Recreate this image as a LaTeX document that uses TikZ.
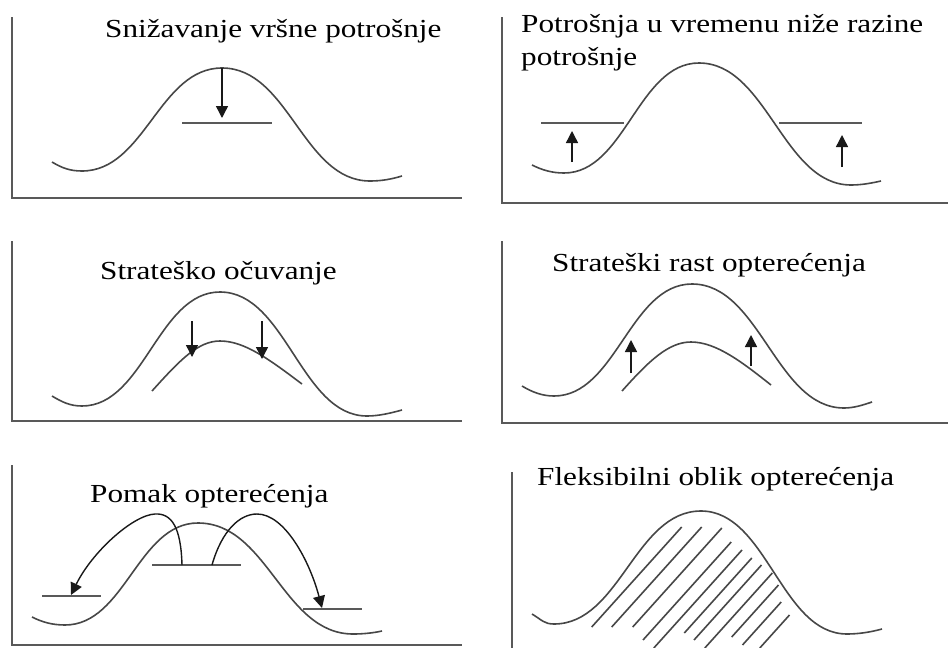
\documentclass[tikz,border=0pt]{standalone}
\usepackage{fontspec}
\setmainfont{Liberation Serif}[FakeStretch=1.2]
\usetikzlibrary{arrows.meta}
\begin{document}
\begin{tikzpicture}[x=1pt,y=-1pt,
  axisline/.style={draw=black!65,line width=1.7pt},
  curveline/.style={draw=black!72,line width=1.6pt},
  levelline/.style={draw=black!65,line width=1.6pt},
  shiftarrow/.style={draw=black!90,line width=1.4pt,-{Triangle[length=12pt,width=12pt]}},
  hatchline/.style={draw=black!72,line width=1.6pt},
  title/.style={anchor=base west,inner sep=0pt,font=\fontsize{26}{33}\selectfont,align=left}]
\useasboundingbox (0,0) rectangle (948,648);
\fill[white] (0,0) rectangle (948,648);

% ---------- Panel 1 ----------
\draw[axisline] (12,17) -- (12,198) -- (462,198);
\node[title] (t1) at (105,37) {Snižavanje vršne potrošnje};
\draw[curveline] (52,162) .. controls (62,168) and (70,171) .. (82,171)
  .. controls (145,171) and (159,68) .. (222,68)
  .. controls (289,68) and (303,181) .. (370,181)
  .. controls (382,181) and (392,179) .. (402,176);
\draw[levelline] (182,123) -- (272,123);
\coordinate (a1s) at (222,68); \coordinate (a1e) at (222,118);
\draw[shiftarrow] (a1s) -- (a1e);

% ---------- Panel 2 ----------
\draw[axisline] (502,17) -- (502,203) -- (948,203);
\node[title] (t2) at (521,65) {Potrošnja u vremenu niže razine\\potrošnje};
\draw[curveline] (532,165) .. controls (542,170) and (552,173) .. (564,173)
  .. controls (625,173) and (638,63) .. (699,63)
  .. controls (767,63) and (783,185) .. (851,185)
  .. controls (862,185) and (872,183) .. (881,181);
\draw[levelline] (541,123) -- (624,123);
\draw[levelline] (779,123) -- (862,123);
\coordinate (a2s) at (572,162); \coordinate (a2e) at (572,131);
\coordinate (a3s) at (842,167); \coordinate (a3e) at (842,135);
\draw[shiftarrow] (a2s) -- (a2e);
\draw[shiftarrow] (a3s) -- (a3e);

% ---------- Panel 3 ----------
\draw[axisline] (12,241) -- (12,421) -- (462,421);
\node[title] (t3) at (100,279) {Strateško očuvanje};
\draw[curveline] (52,396) .. controls (62,402) and (70,406) .. (82,406)
  .. controls (144,406) and (158,292) .. (220,292)
  .. controls (286,292) and (301,416) .. (367,416)
  .. controls (379,416) and (391,413) .. (402,410);
\draw[curveline] (152,391) .. controls (180,360) and (198,341) .. (220,341)
  .. controls (245,341) and (270,360) .. (302,384);
\coordinate (a4s) at (192,321); \coordinate (a4e) at (192,357);
\coordinate (a5s) at (262,321); \coordinate (a5e) at (262,359);
\draw[shiftarrow] (a4s) -- (a4e);
\draw[shiftarrow] (a5s) -- (a5e);

% ---------- Panel 4 ----------
\draw[axisline] (502,241) -- (502,423) -- (948,423);
\node[title] (t4) at (552,271) {Strateški rast opterećenja};
\draw[curveline] (522,386) .. controls (532,392) and (542,396) .. (554,396)
  .. controls (616,396) and (630,284) .. (692,284)
  .. controls (760,284) and (776,408) .. (844,408)
  .. controls (854,408) and (863,405) .. (872,402);
\draw[curveline] (622,391) .. controls (648,362) and (668,342) .. (691,342)
  .. controls (716,342) and (742,362) .. (771,385);
\coordinate (a6s) at (631,373); \coordinate (a6e) at (631,340);
\coordinate (a7s) at (751,366); \coordinate (a7e) at (751,335);
\draw[shiftarrow] (a6s) -- (a6e);
\draw[shiftarrow] (a7s) -- (a7e);

% ---------- Panel 5 ----------
\draw[axisline] (12,465) -- (12,645) -- (462,645);
\node[title] (t5) at (90,502) {Pomak opterećenja};
\draw[curveline] (32,617) .. controls (42,622) and (52,625) .. (65,625)
  .. controls (125,625) and (138,523) .. (198,523)
  .. controls (268,523) and (283,634) .. (353,634)
  .. controls (363,634) and (373,633) .. (382,631);
\draw[levelline] (152,565) -- (241,565);
\draw[levelline] (42,596) -- (101,596);
\draw[levelline] (303,609) -- (362,609);
\coordinate (a8s) at (182,565); \coordinate (a8e) at (71,595);
\coordinate (a9s) at (212,565); \coordinate (a9e) at (322,608);
\draw[shiftarrow] (a8s) .. controls (181,528) and (172,513) .. (155,514)
  .. controls (133,515) and (92,552) .. (a8e);
\draw[shiftarrow] (a9s) .. controls (222,530) and (240,514) .. (257,514)
  .. controls (285,514) and (310,562) .. (a9e);

% ---------- Panel 6 ----------
\draw[axisline] (512,472) -- (512,648);
\node[title] (t6) at (537,485) {Fleksibilni oblik opterećenja};
\draw[curveline] (532,614) .. controls (542,620) and (544,624) .. (554,624)
  .. controls (620,624) and (635,511) .. (701,511)
  .. controls (767,511) and (781,634) .. (847,634)
  .. controls (859,634) and (871,632) .. (882,629);
\foreach \c/\yt/\yb in {1156/527/627, 1176/527/627, 1197/528/627, 1219/542/640,
  1237/550/648, 1254/558/633, 1270/565/640, 1288/573/648, 1305/585/637,
  1323/602/645, 1343/615/648}
  \draw[hatchline] ({\c-0.9*\yb},\yb) -- ({\c-0.9*\yt},\yt);
\end{tikzpicture}
\end{document}
